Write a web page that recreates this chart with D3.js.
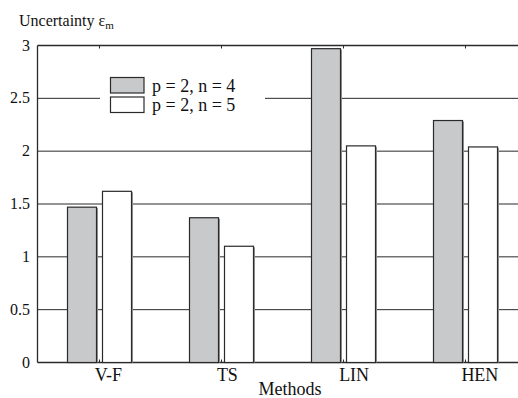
<!DOCTYPE html>
<html>
<head>
<meta charset="utf-8">
<script src="https://cdn.jsdelivr.net/npm/d3@7/dist/d3.min.js"></script>
<style>
  html, body { margin: 0; padding: 0; background: #fff; }
  svg { display: block; }
</style>
</head>
<body>
<svg id="chart" width="518" height="398"></svg>
<script>
const categories = ["V-F", "TS", "LIN", "HEN"];
const seriesNames = ["p = 2, n = 4", "p = 2, n = 5"];
const seriesN4 = [1.47, 1.37, 2.97, 2.29];
const seriesN5 = [1.62, 1.10, 2.05, 2.04];
const yTicks = [0, 0.5, 1, 1.5, 2, 2.5, 3];
const yTickLabels = ["0", "0.5", "1", "1.5", "2", "2.5", "3"];
const xAxisTitle = "Methods";
const yAxisTitle = "Uncertainty ε";
const yAxisSub = "m";

(function () {
const FONT = "'Liberation Serif', 'DejaVu Serif', 'Times New Roman', serif";
const fills = ["#c8c9cb", "#ffffff"];
const lineColor = "#2a2a2a";

const svg = d3.select("#chart").attr("font-family", FONT);
const W = 518;
const pLeft = 37.5, pRight = 526.5, pTop = 45.5, pBottom = 362.5;

const x = d3.scaleBand().domain(categories).range([pLeft, pRight]).paddingInner(0).paddingOuter(0);
const x1 = d3.scaleBand().domain(seriesNames).range([-32, 32]).paddingInner(2 - 64 / 35).paddingOuter(0);
const y = d3.scaleLinear().domain([0, 3]).range([pBottom, pTop]);
const cx = c => x(c) + x.bandwidth() / 2;

// grid lines
const grid = svg.append("g");
grid.selectAll("line").data(yTicks.filter(v => v > 0 && v < 3)).enter().append("line")
  .attr("x1", pLeft).attr("x2", W).attr("y1", d => y(d)).attr("y2", d => y(d))
  .attr("stroke", lineColor).attr("stroke-width", 1);

// legend background (interrupts grid)
const legendX = 110.5, legendY = 77.5;
svg.append("rect").attr("x", 100).attr("y", 70).attr("width", 165).attr("height", 48).attr("fill", "#fff");

// axes frame
svg.append("line").attr("x1", pLeft).attr("x2", W).attr("y1", y(3)).attr("y2", y(3))
  .attr("stroke", lineColor).attr("stroke-width", 1.3);
svg.append("line").attr("x1", pLeft).attr("x2", W).attr("y1", y(0)).attr("y2", y(0))
  .attr("stroke", lineColor).attr("stroke-width", 1.3);
svg.append("line").attr("x1", pLeft).attr("x2", pLeft).attr("y1", y(3)).attr("y2", y(0))
  .attr("stroke", lineColor).attr("stroke-width", 1.3);

// category ticks top and bottom
const ticks = svg.append("g");
categories.forEach(c => {
  const xc = Math.round(cx(c)) + 0.5;
  ticks.append("line").attr("x1", xc).attr("x2", xc).attr("y1", y(3)).attr("y2", y(3) + 3)
    .attr("stroke", lineColor).attr("stroke-width", 1);
  ticks.append("line").attr("x1", xc).attr("x2", xc).attr("y1", y(0)).attr("y2", y(0) - 3)
    .attr("stroke", lineColor).attr("stroke-width", 1);
});

// bars
const seriesData = [seriesN4, seriesN5];
seriesData.forEach((vals, si) => {
  const g = svg.append("g");
  const bx = c => Math.round(cx(c) + x1(seriesNames[si])) + 0.5;
  const bw = Math.round(x1.bandwidth());
  g.selectAll("rect").data(categories).enter().append("rect")
    .attr("x", bx)
    .attr("y", (c, i) => y(vals[i]))
    .attr("width", bw)
    .attr("height", (c, i) => y(0) - y(vals[i]))
    .attr("fill", fills[si])
    .attr("stroke", lineColor).attr("stroke-width", 1.2);
  g.selectAll("line").data(categories).enter().append("line")
    .attr("x1", c => bx(c) + bw + 1)
    .attr("x2", c => bx(c) + bw + 1)
    .attr("y1", (c, i) => y(vals[i]) + 1)
    .attr("y2", y(0))
    .attr("stroke", "#8a8a8a").attr("stroke-width", 1);
});

// y tick labels
svg.append("g").selectAll("text").data(yTicks).enter().append("text")
  .attr("x", 30).attr("y", d => y(d) + 5)
  .attr("text-anchor", "end").attr("font-size", 16).attr("font-family", FONT).attr("fill", "#111")
  .text((d, i) => yTickLabels[i]);

// x tick labels
svg.append("g").selectAll("text").data(categories).enter().append("text")
  .attr("x", c => cx(c) - 4).attr("y", 381)
  .attr("text-anchor", "start").attr("font-size", 18).attr("font-family", FONT).attr("fill", "#111")
  .text(c => c);

// axis titles
svg.append("text").attr("x", 290).attr("y", 395).attr("text-anchor", "middle")
  .attr("font-size", 18).attr("font-family", FONT).attr("fill", "#111").text(xAxisTitle);
const yt = svg.append("text").attr("x", 19).attr("y", 26).attr("font-size", 16)
  .attr("font-family", FONT).attr("fill", "#111");
yt.append("tspan").text(yAxisTitle);
yt.append("tspan").attr("font-size", 11).attr("dy", 3).text(yAxisSub);

// legend
const lg = svg.append("g");
seriesNames.forEach((s, i) => {
  lg.append("rect").attr("x", legendX).attr("y", legendY + i * 19.5)
    .attr("width", 33.5).attr("height", 15.5)
    .attr("fill", fills[i]).attr("stroke", lineColor).attr("stroke-width", 1.2);
  lg.append("text").attr("x", 152).attr("y", 91.5 + i * 19)
    .attr("font-size", 18).attr("font-family", FONT).attr("fill", "#111").text(s);
});
})();
</script>
</body>
</html>
